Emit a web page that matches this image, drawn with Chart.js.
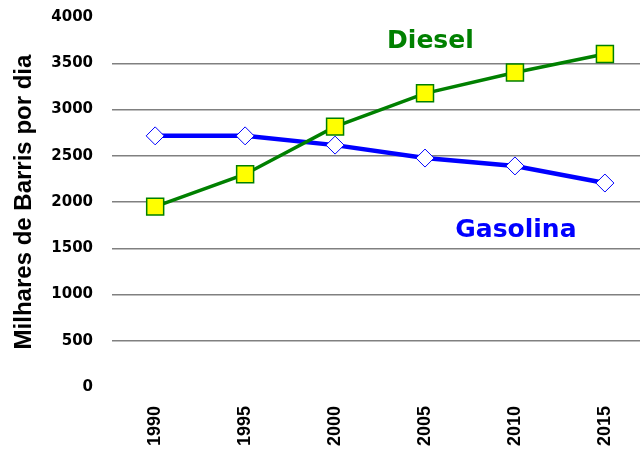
<!DOCTYPE html>
<html>
<head>
<meta charset="utf-8">
<script src="https://cdn.jsdelivr.net/npm/chart.js@4"></script>
<style>
  html, body { margin: 0; padding: 0; background: #fff; overflow: hidden; }
  #wrap { width: 640px; height: 456px; }
</style>
</head>
<body>
<div id="wrap"><canvas id="chart"></canvas></div>
<script>
// data
const years = [1990, 1995, 2000, 2005, 2010, 2015];
const diesel = [1950, 2300, 2815, 3175, 3400, 3600];
const gasolina = [2715, 2715, 2615, 2475, 2390, 2205];
const yTicks = [0, 500, 1000, 1500, 2000, 2500, 3000, 3500, 4000];
const seriesNames = ['Diesel', 'Gasolina'];

const toPoints = vals => vals.map((v, i) => ({ x: years[i], y: v }));

// series names written next to the lines
const seriesLabels = {
    id: 'seriesLabels',
    afterDatasetsDraw(chart, args, opts) {
        const { ctx, scales: { x, y } } = chart;
        ctx.save();
        ctx.textAlign = 'center';
        ctx.textBaseline = 'alphabetic';
        opts.items.forEach(it => {
            ctx.font = opts.font;
            ctx.fillStyle = it.color;
            ctx.fillText(it.text, x.getPixelForValue(it.x), y.getPixelForValue(it.y));
        });
        ctx.restore();
    }
};

new Chart(document.getElementById('chart'), {
    type: 'line',
    data: {
        datasets: [
            {
                label: seriesNames[0],
                data: toPoints(diesel),
                borderColor: '#008000',
                borderWidth: 3.5,
                pointStyle: 'rect',
                pointRadius: 12,
                pointBackgroundColor: '#ffff00',
                pointBorderColor: '#008000',
                pointBorderWidth: 1.5,
                tension: 0
            },
            {
                label: seriesNames[1],
                data: toPoints(gasolina),
                borderColor: '#0000ff',
                borderWidth: 4.5,
                pointStyle: 'rectRot',
                pointRadius: 9,
                pointBackgroundColor: '#ffffff',
                pointBorderColor: '#0000ff',
                pointBorderWidth: 1,
                tension: 0
            }
        ]
    },
    options: {
        responsive: true,
        maintainAspectRatio: false,
        animation: false,
        events: [],
        layout: { autoPadding: false, padding: { top: 17, right: 0, left: 0, bottom: 0 } },
        plugins: {
            legend: { display: false },
            tooltip: { enabled: false },
            seriesLabels: {
                font: 'bold 25px "DejaVu Sans"',
                items: [
                    { text: seriesNames[0], color: '#008000', x: 2005.3, y: 3665 },
                    { text: seriesNames[1], color: '#0000ff', x: 2010.05, y: 1622 }
                ]
            }
        },
        scales: {
            x: {
                type: 'linear',
                min: 1987.6,
                max: 2016.95,
                afterBuildTicks: s => { s.ticks = years.map(v => ({ value: v })); },
                afterFit: s => { s.height = 69; s.paddingLeft = 0; s.paddingRight = 0; },
                grid: { display: false, drawTicks: false },
                border: { display: false },
                ticks: {
                    minRotation: 90,
                    maxRotation: 90,
                    padding: 19,
                    color: '#000',
                    font: { family: '"Liberation Sans", Arial, sans-serif', size: 18, weight: 'bold' },
                    callback: v => String(v)
                }
            },
            y: {
                min: 0,
                max: 4000,
                afterBuildTicks: s => { s.ticks = yTicks.map(v => ({ value: v })); },
                afterFit: s => { s.width = 112; s.paddingTop = 0; s.paddingBottom = 0; },
                grid: {
                    drawTicks: false,
                    color: c => (c.tick && (c.tick.value === 0 || c.tick.value === 4000)) ? 'rgba(0,0,0,0)' : '#808080',
                    lineWidth: 1.5
                },
                border: { display: false },
                ticks: {
                    padding: 19,
                    color: '#000',
                    font: { family: '"DejaVu Sans", Verdana, sans-serif', size: 15, weight: 'bold' },
                    callback: v => String(v)
                },
                title: {
                    display: true,
                    text: 'Milhares de Barris por dia',
                    color: '#000',
                    padding: { top: 10, bottom: 0 },
                    font: { family: '"Liberation Sans", Arial, sans-serif', size: 24, weight: 'bold' }
                }
            }
        }
    },
    plugins: [seriesLabels]
});
</script>
</body>
</html>
